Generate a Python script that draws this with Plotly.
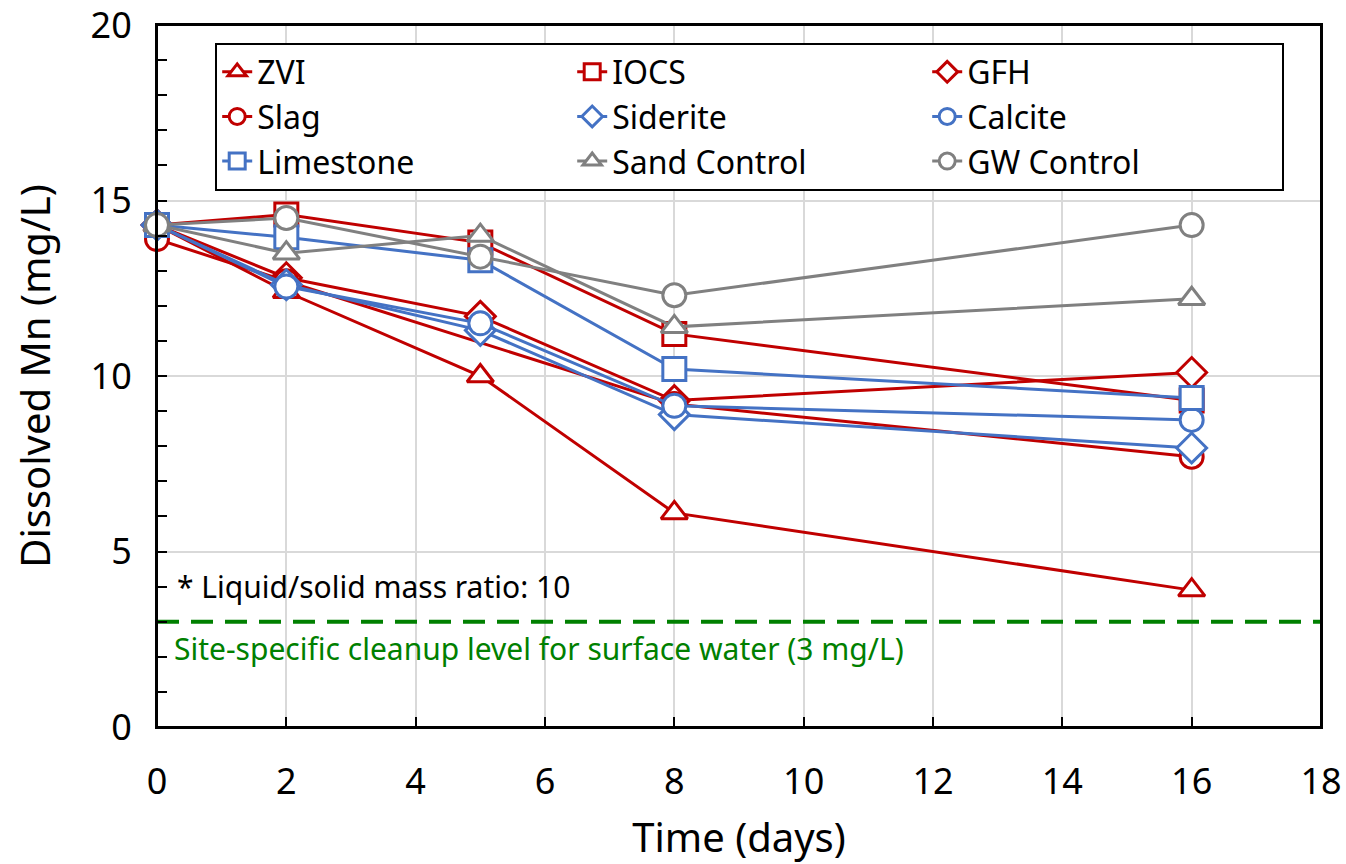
import plotly.graph_objects as go

days = [0, 2, 5, 8, 16]
days_slag = [0, 2, 8, 16]

zvi = [14.3, 12.4, 10.0, 6.1, 3.9]
iocs = [14.3, 14.6, 13.8, 11.2, 9.3]
gfh = [14.3, 12.8, 11.7, 9.3, 10.1]
slag = [13.9, 12.7, 9.2, 7.7]
siderite = [14.3, 12.6, 11.3, 8.9, 7.95]
calcite = [14.3, 12.55, 11.5, 9.15, 8.75]
limestone = [14.3, 13.95, 13.3, 10.2, 9.37]
sand_control = [14.3, 13.5, 14.0, 11.4, 12.2]
gw_control = [14.3, 14.5, 13.4, 12.3, 14.3]

cleanup_level = 3

RED = "#C00000"
BLUE = "#4472C4"
GREY = "#808080"

series = [
    ("ZVI", days, zvi, RED, "triangle-up"),
    ("IOCS", days, iocs, RED, "square"),
    ("GFH", days, gfh, RED, "diamond"),
    ("Slag", days_slag, slag, RED, "circle"),
    ("Siderite", days, siderite, BLUE, "diamond"),
    ("Calcite", days, calcite, BLUE, "circle"),
    ("Limestone", days, limestone, BLUE, "square"),
    ("Sand Control", days, sand_control, GREY, "triangle-up"),
    ("GW Control", days, gw_control, GREY, "circle"),
]

fig = go.Figure()

fig.add_trace(go.Scatter(x=[0, 18], y=[cleanup_level, cleanup_level], mode="lines",
                         line=dict(color="#008000", width=4, dash="22px,12px"),
                         showlegend=False, hoverinfo="skip"))

for name, xs, ys, col, sym in series:
    fig.add_trace(go.Scatter(
        x=xs, y=ys, name=name, mode="lines+markers",
        line=dict(color=col, width=3),
        marker=dict(symbol=sym, size=23, color="white",
                    line=dict(color=col, width=3)),
        cliponaxis=False,
    ))

fig.update_layout(
    width=1346, height=864,
    margin=dict(l=157, r=25, t=25, b=137),
    plot_bgcolor="white", paper_bgcolor="white",
    font=dict(family="Noto Sans, Open Sans, sans-serif", color="black", size=30),
    showlegend=True,
    legend=dict(
        orientation="h", x=0.05, y=0.975, xanchor="left", yanchor="top",
        bgcolor="white", bordercolor="black", borderwidth=2,
        font=dict(size=32), entrywidth=310, entrywidthmode="pixels",
        tracegroupgap=0, itemsizing="trace",
    ),
)

fig.update_xaxes(
    range=[0, 18], dtick=2, tick0=0, automargin=False,
    showline=True, linecolor="black", linewidth=2, mirror=True,
    ticks="inside", ticklen=10, tickwidth=2, tickcolor="black",
    showgrid=True, gridcolor="#d9d9d9", gridwidth=2,
    zeroline=False, ticklabelstandoff=22, ticklabeloverflow="allow",
    title=dict(text="Time (days)", font=dict(size=40), standoff=22),
    tickfont=dict(size=36),
)
fig.update_yaxes(
    range=[0, 20], dtick=5, tick0=0, automargin=False,
    showline=True, linecolor="black", linewidth=2, mirror=True,
    ticks="outside", ticklen=16, tickcolor="rgba(0,0,0,0)",
    showgrid=True, gridcolor="#d9d9d9", gridwidth=2,
    minor=dict(dtick=1, ticks="inside", ticklen=10, tickwidth=2, tickcolor="black", showgrid=False),
    zeroline=False, ticklabeloverflow="allow",
    title=dict(text="Dissolved Mn (mg/L)", font=dict(size=40), standoff=28),
    tickfont=dict(size=36),
)

# plot-area border
fig.add_shape(type="rect", xref="paper", yref="paper", x0=0, x1=1, y0=0, y1=1,
              line=dict(color="black", width=2), layer="above")

fig.add_annotation(x=0, y=3.99, xref="x", yref="y", xanchor="left", yanchor="middle",
                   xshift=18, text="* Liquid/solid mass ratio: 10", showarrow=False,
                   font=dict(size=30, color="black"))
fig.add_annotation(x=0, y=2.25, xref="x", yref="y", xanchor="left", yanchor="middle",
                   xshift=15, text="Site-specific cleanup level for surface water (3 mg/L)",
                   showarrow=False, font=dict(size=30, color="#008000"))

fig.write_html("out.html", config={"displayModeBar": False})
